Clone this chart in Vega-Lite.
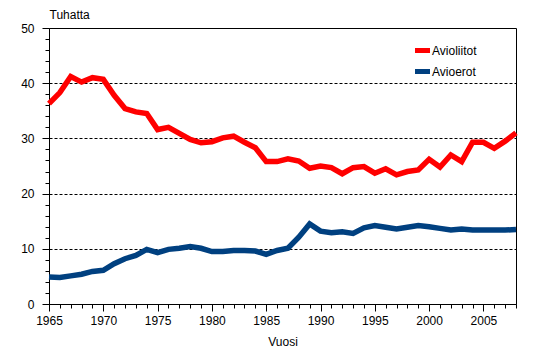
{
  "$schema": "https://vega.github.io/schema/vega-lite/v6.json",
  "width": 467,
  "height": 276,
  "autosize": {"type": "none"},
  "padding": {"left": 49, "top": 28, "right": 37, "bottom": 49},
  "background": "white",
  "config": {
    "font": "Liberation Sans",
    "view": {"stroke": "black", "strokeWidth": 1},
    "axis": {"labelFont": "Liberation Sans", "labelFontSize": 12, "labelColor": "black", "titleFont": "Liberation Sans", "titleFontSize": 12, "titleFontWeight": "normal", "titleColor": "black", "domainColor": "black", "tickColor": "black"}
  },
  "data": {"values": [
    {"Vuosi": 1965, "sarja": "Avioliitot", "arvo": 36.3},
    {"Vuosi": 1966, "sarja": "Avioliitot", "arvo": 38.3},
    {"Vuosi": 1967, "sarja": "Avioliitot", "arvo": 41.2},
    {"Vuosi": 1968, "sarja": "Avioliitot", "arvo": 40.2},
    {"Vuosi": 1969, "sarja": "Avioliitot", "arvo": 41.0},
    {"Vuosi": 1970, "sarja": "Avioliitot", "arvo": 40.7},
    {"Vuosi": 1971, "sarja": "Avioliitot", "arvo": 37.8},
    {"Vuosi": 1972, "sarja": "Avioliitot", "arvo": 35.4},
    {"Vuosi": 1973, "sarja": "Avioliitot", "arvo": 34.8},
    {"Vuosi": 1974, "sarja": "Avioliitot", "arvo": 34.5},
    {"Vuosi": 1975, "sarja": "Avioliitot", "arvo": 31.6},
    {"Vuosi": 1976, "sarja": "Avioliitot", "arvo": 32.0},
    {"Vuosi": 1977, "sarja": "Avioliitot", "arvo": 30.9},
    {"Vuosi": 1978, "sarja": "Avioliitot", "arvo": 29.8},
    {"Vuosi": 1979, "sarja": "Avioliitot", "arvo": 29.2},
    {"Vuosi": 1980, "sarja": "Avioliitot", "arvo": 29.4},
    {"Vuosi": 1981, "sarja": "Avioliitot", "arvo": 30.1},
    {"Vuosi": 1982, "sarja": "Avioliitot", "arvo": 30.4},
    {"Vuosi": 1983, "sarja": "Avioliitot", "arvo": 29.3},
    {"Vuosi": 1984, "sarja": "Avioliitot", "arvo": 28.3},
    {"Vuosi": 1985, "sarja": "Avioliitot", "arvo": 25.8},
    {"Vuosi": 1986, "sarja": "Avioliitot", "arvo": 25.8},
    {"Vuosi": 1987, "sarja": "Avioliitot", "arvo": 26.3},
    {"Vuosi": 1988, "sarja": "Avioliitot", "arvo": 25.9},
    {"Vuosi": 1989, "sarja": "Avioliitot", "arvo": 24.6},
    {"Vuosi": 1990, "sarja": "Avioliitot", "arvo": 25.0},
    {"Vuosi": 1991, "sarja": "Avioliitot", "arvo": 24.7},
    {"Vuosi": 1992, "sarja": "Avioliitot", "arvo": 23.6},
    {"Vuosi": 1993, "sarja": "Avioliitot", "arvo": 24.7},
    {"Vuosi": 1994, "sarja": "Avioliitot", "arvo": 24.9},
    {"Vuosi": 1995, "sarja": "Avioliitot", "arvo": 23.7},
    {"Vuosi": 1996, "sarja": "Avioliitot", "arvo": 24.5},
    {"Vuosi": 1997, "sarja": "Avioliitot", "arvo": 23.4},
    {"Vuosi": 1998, "sarja": "Avioliitot", "arvo": 24.0},
    {"Vuosi": 1999, "sarja": "Avioliitot", "arvo": 24.3},
    {"Vuosi": 2000, "sarja": "Avioliitot", "arvo": 26.2},
    {"Vuosi": 2001, "sarja": "Avioliitot", "arvo": 24.8},
    {"Vuosi": 2002, "sarja": "Avioliitot", "arvo": 27.0},
    {"Vuosi": 2003, "sarja": "Avioliitot", "arvo": 25.8},
    {"Vuosi": 2004, "sarja": "Avioliitot", "arvo": 29.3},
    {"Vuosi": 2005, "sarja": "Avioliitot", "arvo": 29.3},
    {"Vuosi": 2006, "sarja": "Avioliitot", "arvo": 28.2},
    {"Vuosi": 2007, "sarja": "Avioliitot", "arvo": 29.5},
    {"Vuosi": 2008, "sarja": "Avioliitot", "arvo": 31.0},
    {"Vuosi": 1965, "sarja": "Avioerot", "arvo": 4.9},
    {"Vuosi": 1966, "sarja": "Avioerot", "arvo": 4.8},
    {"Vuosi": 1967, "sarja": "Avioerot", "arvo": 5.1},
    {"Vuosi": 1968, "sarja": "Avioerot", "arvo": 5.4},
    {"Vuosi": 1969, "sarja": "Avioerot", "arvo": 5.9},
    {"Vuosi": 1970, "sarja": "Avioerot", "arvo": 6.1},
    {"Vuosi": 1971, "sarja": "Avioerot", "arvo": 7.3},
    {"Vuosi": 1972, "sarja": "Avioerot", "arvo": 8.2},
    {"Vuosi": 1973, "sarja": "Avioerot", "arvo": 8.8},
    {"Vuosi": 1974, "sarja": "Avioerot", "arvo": 9.9},
    {"Vuosi": 1975, "sarja": "Avioerot", "arvo": 9.3},
    {"Vuosi": 1976, "sarja": "Avioerot", "arvo": 9.9},
    {"Vuosi": 1977, "sarja": "Avioerot", "arvo": 10.1},
    {"Vuosi": 1978, "sarja": "Avioerot", "arvo": 10.4},
    {"Vuosi": 1979, "sarja": "Avioerot", "arvo": 10.1},
    {"Vuosi": 1980, "sarja": "Avioerot", "arvo": 9.5},
    {"Vuosi": 1981, "sarja": "Avioerot", "arvo": 9.5},
    {"Vuosi": 1982, "sarja": "Avioerot", "arvo": 9.7},
    {"Vuosi": 1983, "sarja": "Avioerot", "arvo": 9.7},
    {"Vuosi": 1984, "sarja": "Avioerot", "arvo": 9.6},
    {"Vuosi": 1985, "sarja": "Avioerot", "arvo": 9.0},
    {"Vuosi": 1986, "sarja": "Avioerot", "arvo": 9.7},
    {"Vuosi": 1987, "sarja": "Avioerot", "arvo": 10.1},
    {"Vuosi": 1988, "sarja": "Avioerot", "arvo": 12.1},
    {"Vuosi": 1989, "sarja": "Avioerot", "arvo": 14.5},
    {"Vuosi": 1990, "sarja": "Avioerot", "arvo": 13.2},
    {"Vuosi": 1991, "sarja": "Avioerot", "arvo": 12.9},
    {"Vuosi": 1992, "sarja": "Avioerot", "arvo": 13.1},
    {"Vuosi": 1993, "sarja": "Avioerot", "arvo": 12.8},
    {"Vuosi": 1994, "sarja": "Avioerot", "arvo": 13.8},
    {"Vuosi": 1995, "sarja": "Avioerot", "arvo": 14.2},
    {"Vuosi": 1996, "sarja": "Avioerot", "arvo": 13.9},
    {"Vuosi": 1997, "sarja": "Avioerot", "arvo": 13.6},
    {"Vuosi": 1998, "sarja": "Avioerot", "arvo": 13.9},
    {"Vuosi": 1999, "sarja": "Avioerot", "arvo": 14.2},
    {"Vuosi": 2000, "sarja": "Avioerot", "arvo": 14.0},
    {"Vuosi": 2001, "sarja": "Avioerot", "arvo": 13.7},
    {"Vuosi": 2002, "sarja": "Avioerot", "arvo": 13.4},
    {"Vuosi": 2003, "sarja": "Avioerot", "arvo": 13.6},
    {"Vuosi": 2004, "sarja": "Avioerot", "arvo": 13.4},
    {"Vuosi": 2005, "sarja": "Avioerot", "arvo": 13.4},
    {"Vuosi": 2006, "sarja": "Avioerot", "arvo": 13.4},
    {"Vuosi": 2007, "sarja": "Avioerot", "arvo": 13.4},
    {"Vuosi": 2008, "sarja": "Avioerot", "arvo": 13.5}
  ]},
  "mark": {"type": "line", "strokeCap": "butt", "strokeJoin": "miter", "strokeWidth": 5.5},
  "encoding": {
    "x": {
      "field": "Vuosi", "type": "quantitative",
      "scale": {"domain": [1965, 2008], "nice": false, "zero": false},
      "axis": {
        "title": "Vuosi",
        "values": [1965,1966,1967,1968,1969,1970,1971,1972,1973,1974,1975,1976,1977,1978,1979,1980,1981,1982,1983,1984,1985,1986,1987,1988,1989,1990,1991,1992,1993,1994,1995,1996,1997,1998,1999,2000,2001,2002,2003,2004,2005,2006,2007,2008],
        "format": "d",
        "labelExpr": "datum.value % 5 == 0 ? datum.label : ''",
        "tickSize": {"condition": {"test": "datum.value % 5 == 0", "value": 7}, "value": 4},
        "labelPadding": 4,
        "labelFlush": false,
        "labelOverlap": false,
        "grid": false,
        "titlePadding": 10
      }
    },
    "y": {
      "field": "arvo", "type": "quantitative",
      "scale": {"domain": [0, 50], "nice": false},
      "axis": {
        "title": "Tuhatta",
        "titleAngle": 0,
        "titleAlign": "left",
        "titleBaseline": "middle",
        "titleX": 0,
        "titleY": -14,
        "values": [0,2,4,6,8,10,12,14,16,18,20,22,24,26,28,30,32,34,36,38,40,42,44,46,48,50],
        "labelExpr": "datum.value % 10 == 0 ? datum.label : ''",
        "tickSize": {"condition": {"test": "datum.value % 10 == 0", "value": 7}, "value": 4},
        "labelPadding": 8,
        "labelOverlap": false,
        "labelFlush": false,
        "grid": true,
        "gridColor": "black",
        "gridDash": [3, 2],
        "gridOpacity": {"condition": {"test": "datum.value % 10 == 0 && datum.value > 0 && datum.value < 50", "value": 1}, "value": 0}
      }
    },
    "color": {
      "field": "sarja", "type": "nominal",
      "sort": ["Avioliitot", "Avioerot"],
      "scale": {"domain": ["Avioliitot", "Avioerot"], "range": ["#FF0000", "#004080"]},
      "legend": {
        "title": null,
        "orient": "none",
        "legendX": 366,
        "legendY": 15,
        "symbolType": "M-1.5,0H1.5",
        "symbolSize": 100,
        "symbolStrokeWidth": 5,
        "labelFont": "Liberation Sans",
        "labelFontSize": 12,
        "labelColor": "black",
        "labelOffset": 2,
        "rowPadding": 0,
        "padding": 0
      }
    }
  }
}
